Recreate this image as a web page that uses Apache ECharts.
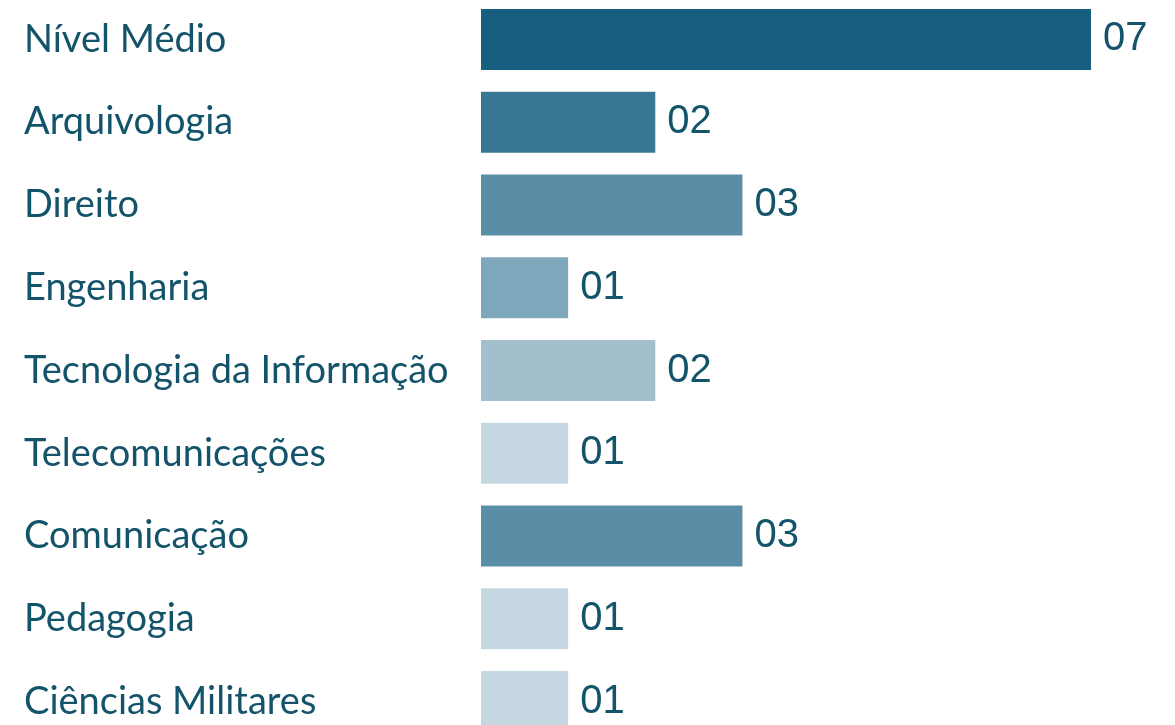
<!DOCTYPE html>
<html>
<head>
<meta charset="utf-8">
<script src="https://cdn.jsdelivr.net/npm/echarts@6/dist/echarts.min.js"></script>
<style>
  html, body { margin: 0; padding: 0; background: #ffffff; overflow: hidden; }
  /* a última faixa passa da borda inferior da janela */
  #chart { position: absolute; left: 0; top: -2px; width: 1175px; height: 745px; }
</style>
</head>
<body>
<div id="chart"></div>
<script>
// Áreas de formação e quantidade de pessoas em cada uma
const areas = [
  'Nível Médio',
  'Arquivologia',
  'Direito',
  'Engenharia',
  'Tecnologia da Informação',
  'Telecomunicações',
  'Comunicação',
  'Pedagogia',
  'Ciências Militares'
];
const quantidades = [7, 2, 3, 1, 2, 1, 3, 1, 1];

// Tons de azul-petróleo, um por barra
const cores = [
  '#165f80', '#377793', '#5a8ea6', '#7fa7bb', '#a3bfcd',
  '#c5d8e1', '#5a8ea6', '#c5d8e1', '#c5d8e1'
];

const textColor = '#14546b';

const chart = echarts.init(document.getElementById('chart'), null, { renderer: 'canvas' });

chart.setOption({
  animation: false,
  backgroundColor: '#ffffff',
  grid: { left: 481, width: 610, top: 0, bottom: 0, containLabel: false },
  xAxis: {
    type: 'value',
    min: 0,
    max: 7,
    show: false
  },
  yAxis: {
    type: 'category',
    inverse: true,
    data: areas,
    axisLine: { show: false },
    axisTick: { show: false },
    splitLine: { show: false },
    axisLabel: {
      align: 'left',
      margin: 457,
      color: textColor,
      fontFamily: 'Lato, "Open Sans", sans-serif',
      fontSize: 38
    }
  },
  series: [{
    type: 'bar',
    data: quantidades.map((v, i) => ({ value: v, itemStyle: { color: cores[i] } })),
    barWidth: 61,
    label: {
      show: true,
      position: 'right',
      distance: 12,
      color: textColor,
      fontFamily: '"Liberation Sans", Arial, sans-serif',
      fontSize: 40,
      formatter: p => String(p.value).padStart(2, '0')
    }
  }]
});
</script>
</body>
</html>
